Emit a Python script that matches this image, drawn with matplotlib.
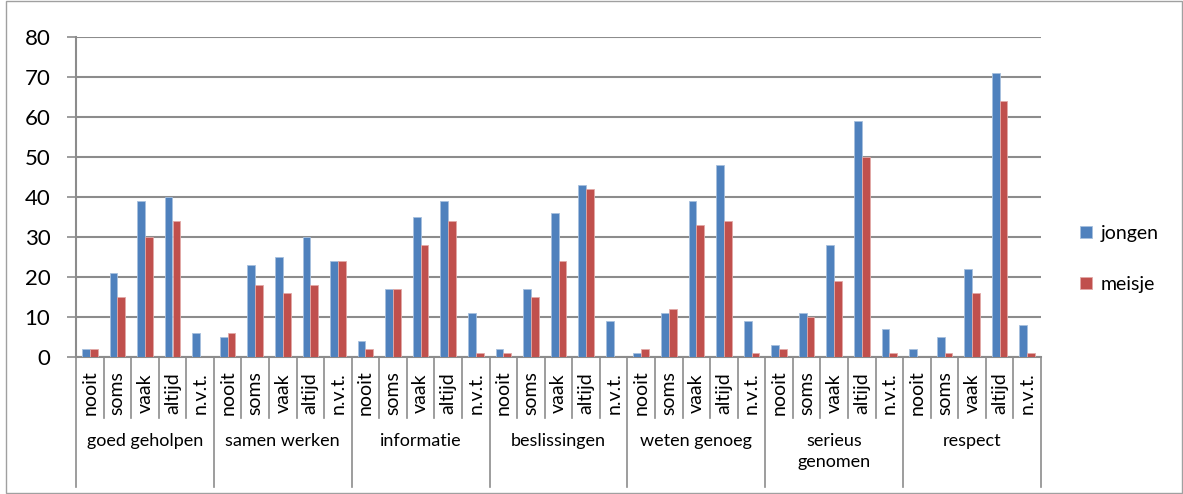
import numpy as np
import matplotlib
matplotlib.use('Agg')
from matplotlib import pyplot as plt
from matplotlib.patches import Rectangle

plt.rcParams['font.family'] = ['Lato', 'DejaVu Sans']

groups = ['goed geholpen', 'samen werken', 'informatie', 'beslissingen',
          'weten genoeg', 'serieus\ngenomen', 'respect']
answers = ['nooit', 'soms', 'vaak', 'altijd', 'n.v.t.']

jongen = [2, 21, 39, 40, 6,
          5, 23, 25, 30, 24,
          4, 17, 35, 39, 11,
          2, 17, 36, 43, 9,
          1, 11, 39, 48, 9,
          3, 11, 28, 59, 7,
          2, 5, 22, 71, 8]
meisje = [2, 15, 30, 34, 0,
          6, 18, 16, 18, 24,
          2, 17, 28, 34, 1,
          1, 15, 24, 42, 0,
          2, 12, 33, 34, 1,
          2, 10, 19, 50, 1,
          0, 1, 16, 64, 1]

blue = '#4F81BD'
red = '#C0504D'
grid_c = '#8C8C8C'

W, H = 1183, 494
fig = plt.figure(figsize=(W / 100, H / 100), dpi=100)
ax = fig.add_axes([76 / W, 1 - 357 / H, (1041 - 76) / W, (357 - 37) / H])

n = len(jongen)
x = np.arange(n)
bw = 0.28
ax.bar(x - bw / 2, jongen, bw, color=blue, edgecolor='#A7C0DE', linewidth=0.6,
       label='jongen', zorder=3)
ax.bar(x + bw / 2, meisje, bw, color=red, edgecolor='#E2A9A7', linewidth=0.6,
       label='meisje', zorder=3)

ax.set_xlim(-0.5, n - 0.5)
ax.set_ylim(0, 80)
ax.set_yticks(range(0, 81, 10))
ax.yaxis.grid(True, color=grid_c, linewidth=1.5, zorder=0)
ax.tick_params(axis='y', labelsize=16, length=6.5, width=1.2, color=grid_c, pad=12)
for s in ['top', 'right']:
    ax.spines[s].set_visible(False)
for s in ['left', 'bottom']:
    ax.spines[s].set_color(grid_c)
    ax.spines[s].set_linewidth(1.5)
ax.set_xticks([])

# two-level category axis
px = 1 / 320.0
trans = ax.get_xaxis_transform()
for i in range(n + 1):
    b = i - 0.5
    low = -130 * px if i % 5 == 0 else -61 * px
    ax.plot([b, b], [0, low], color=grid_c, linewidth=1.2, transform=trans,
            clip_on=False)
for i in range(n):
    ax.text(i, -36 * px, answers[i % 5], rotation=90, ha='center', va='center',
            fontsize=14, transform=trans)
for g, name in enumerate(groups):
    ax.text(g * 5 + 2, -76 * px, name, ha='center', va='top', fontsize=13,
            linespacing=1.4, transform=trans)

ax.legend(loc='center left', bbox_to_anchor=(1080 / W, 1 - 259 / H),
          bbox_transform=fig.transFigure, frameon=False,
          fontsize=14, handlelength=0.6, handleheight=0.6, labelspacing=1.75,
          handletextpad=0.45, borderpad=0, borderaxespad=0)

fig.patches.append(Rectangle((6 / W, 0.002), 1 - 7 / W, 0.996, transform=fig.transFigure,
                             fill=False, edgecolor='#A0A0A0', linewidth=1))

fig.savefig('out.png', dpi=100)
